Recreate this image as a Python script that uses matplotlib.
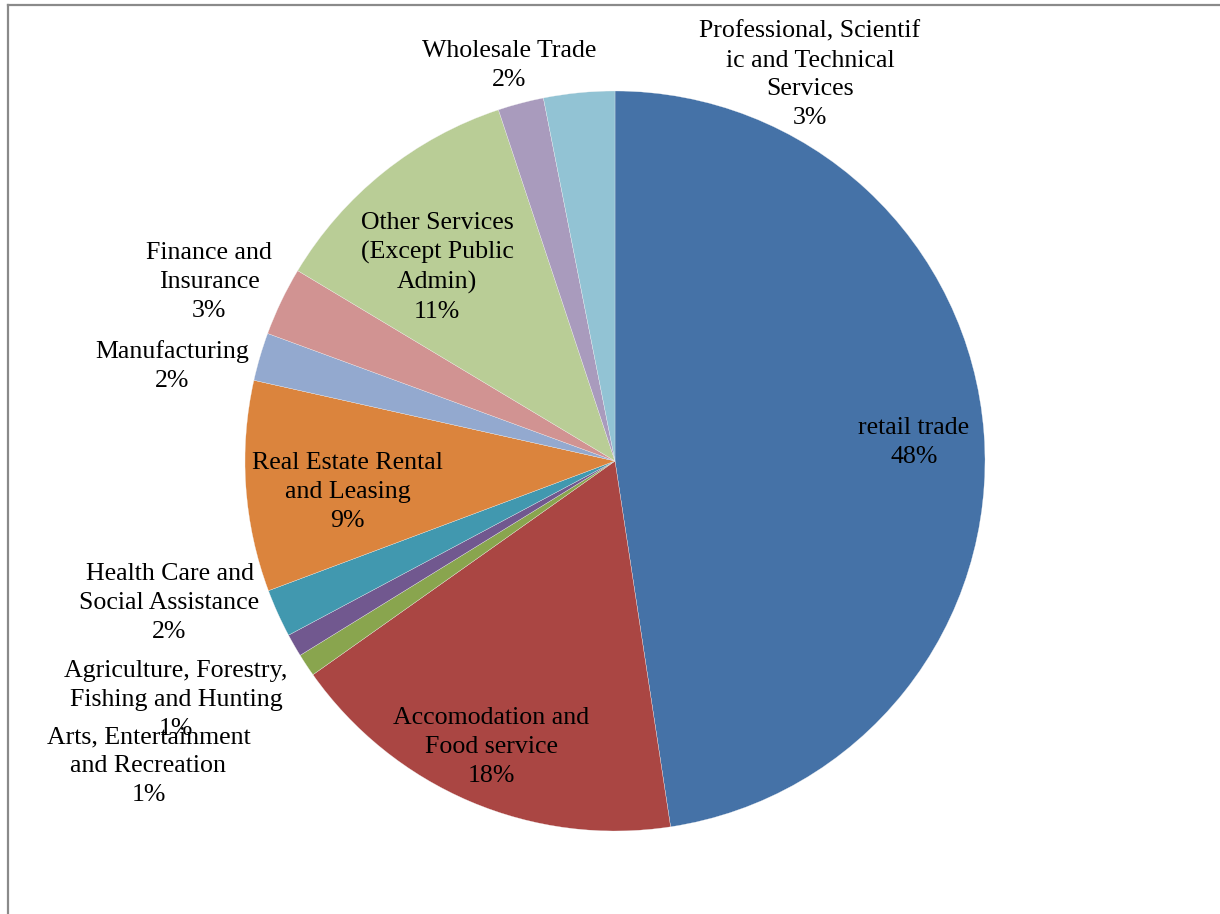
import matplotlib
matplotlib.use("Agg")
import matplotlib.pyplot as plt
from matplotlib.lines import Line2D

# Share of businesses by industry sector
sectors = [
    "retail trade",
    "Accomodation and\nFood service",
    "Agriculture, Forestry,\nFishing and Hunting",
    "Arts, Entertainment\nand Recreation",
    "Health Care and\nSocial Assistance",
    "Real Estate Rental\nand Leasing",
    "Manufacturing",
    "Finance and\nInsurance",
    "Other Services\n(Except Public\nAdmin)",
    "Wholesale Trade",
    "Professional, Scientif\nic and Technical\nServices",
]
shares = [47.6, 17.6, 1.0, 1.0, 2.1, 9.2, 2.1, 3.0, 11.3, 2.0, 3.1]

colors = ["#4572A7", "#AA4643", "#89A54E", "#71588F", "#4198AF", "#DB843D",
          "#93A9CF", "#D19392", "#B9CD96", "#A99BBD", "#92C3D4"]

# label centres, in units of the pie radius
label_xy = [(0.808, 0.049), (-0.335, -0.773), (-1.186, -0.646),
            (-1.261, -0.824), (-1.204, -0.384), (-0.722, -0.084),
            (-1.197, 0.257), (-1.097, 0.484), (-0.481, 0.524),
            (-0.286, 1.068), (0.527, 1.043)]

W, H, DPI = 1220, 914, 100
CX, CY, R = 615, 461, 370   # pie centre / radius in pixels

fig = plt.figure(figsize=(W / DPI, H / DPI), dpi=DPI)
ax = fig.add_axes([0, 0, 1, 1])

ax.pie(shares, colors=colors, startangle=90, counterclock=False,
       radius=1, center=(0, 0), frame=True,
       wedgeprops=dict(edgecolor="#f4f4f4", linewidth=0.2))
ax.set_xlim(-CX / R, (W - CX) / R)
ax.set_ylim((CY - H) / R, CY / R)
ax.set_aspect("auto")
ax.axis("off")

# labels overlap a little at the lower left, as the two 1% slices sit together
total = sum(shares)
for name, val, (x, y) in zip(sectors, shares, label_xy):
    ax.text(x, y, f"{name}\n{val / total * 100:.0f}%",
            ha="center", va="center", multialignment="center",
            fontsize=18.6, family="Liberation Serif", color="black",
            linespacing=1.4)

# chart area frame (top and left edges)
fig.add_artist(Line2D([8 / W, 8 / W], [0, 1 - 5 / H], transform=fig.transFigure,
                      color="#8a8a8a", lw=1.6))
fig.add_artist(Line2D([8 / W, 1], [1 - 5 / H, 1 - 5 / H], transform=fig.transFigure,
                      color="#8a8a8a", lw=1.6))

fig.savefig("out.png", dpi=DPI)
